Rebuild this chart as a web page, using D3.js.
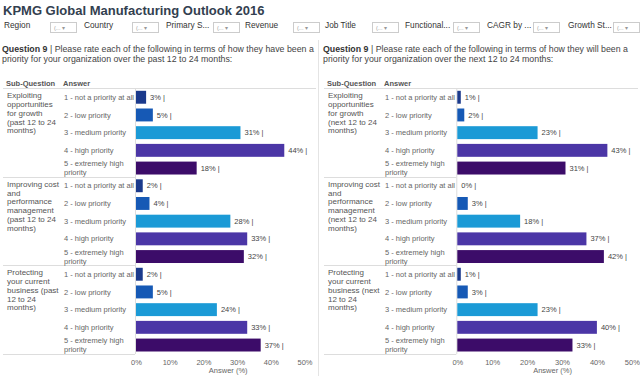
<!DOCTYPE html>
<html>
<head>
<meta charset="utf-8">
<script src="https://cdn.jsdelivr.net/npm/d3@7"></script>
<style>
  body { margin: 0; background: #fff; }
  text { font-family: "Liberation Sans", Arial, sans-serif; }
</style>
</head>
<body>
<div id="chart-area"></div>
<script>
var title = "KPMG Global Manufacturing Outlook 2016";
var filters = ["Region", "Country", "Primary S...", "Revenue", "Job Title", "Functional...", "CAGR by ...", "Growth St..."];

var answers = [
    ["1 - not a priority at all"],
    ["2 - low priority"],
    ["3 - medium priority"],
    ["4 - high priority"],
    ["5 - extremely high", "priority"]
];

var pastQuestion = ["Please rate each of the following in terms of how they have been a",
    "priority for your organization over the past 12 to 24 months:"];
var nextQuestion = ["Please rate each of the following in terms of how they will been a",
    "priority for your organization over the next 12 to 24 months:"];

var pastSubQuestions = [
    ["Exploiting", "opportunities", "for growth", "(past 12 to 24", "months)"],
    ["Improving cost", "and", "performance", "management", "(past 12 to 24", "months)"],
    ["Protecting", "your current", "business (past", "12 to 24", "months)"]
];
var nextSubQuestions = [
    ["Exploiting", "opportunities", "for growth", "(next 12 to 24", "months)"],
    ["Improving cost", "and", "performance", "management", "(next 12 to 24", "months)"],
    ["Protecting", "your current", "business (next", "12 to 24", "months)"]
];

var pastValues = [[3, 5, 31, 44, 18], [2, 4, 28, 33, 32], [2, 5, 24, 33, 37]];
var nextValues = [[1, 2, 23, 43, 31], [0, 3, 18, 37, 42], [1, 3, 23, 40, 33]];

var xTicks = [0, 10, 20, 30, 40, 50];
var colors = ["#1b3a8c", "#1659b5", "#1b9ad6", "#4b36a6", "#3c0c69"];

var width = 640;
var height = 376;

var svg = d3.select("#chart-area")
    .append("svg")
        .attr("width", width)
        .attr("height", height);

svg.append("text")
    .attr("x", 3)
    .attr("y", 15)
    .attr("font-size", "13px")
    .attr("font-weight", "bold")
    .attr("fill", "#33404f")
    .text(title);

// filter row
var filterX = [4, 84, 166, 245, 325, 405, 487, 568];
var boxX = [50, 132, 213, 293, 372, 453, 533, 613];
filters.forEach((f, i) => {
    svg.append("text")
        .attr("x", filterX[i])
        .attr("y", 28)
        .attr("font-size", "8.3px")
        .attr("fill", "#333")
        .text(f);
    svg.append("rect")
        .attr("x", boxX[i] + 0.5)
        .attr("y", 22.5)
        .attr("width", 26)
        .attr("height", 10)
        .attr("fill", "#fff")
        .attr("stroke", "#ccc");
    svg.append("text")
        .attr("x", boxX[i] + 4)
        .attr("y", 30)
        .attr("font-size", "5.5px")
        .attr("fill", "#999")
        .text("(... \u25BE");
});

// divider between the two panels
svg.append("line")
    .attr("x1", 318.5).attr("x2", 318.5)
    .attr("y1", 40).attr("y2", height)
    .attr("stroke", "#e4e4e4");

var panels = [
    {x0: 0, barX: 136, barW: 168.5, right: 316, question: pastQuestion, subQ: pastSubQuestions, values: pastValues},
    {x0: 321, barX: 457.3, barW: 174.5, right: 638, question: nextQuestion, subQ: nextSubQuestions, values: nextValues}
];

panels.forEach((p) => {
    var g = svg.append("g");

    var q = g.append("text")
        .attr("x", p.x0 + 2)
        .attr("y", 52)
        .attr("font-size", "8.8px")
        .attr("fill", "#444");
    q.append("tspan").attr("font-weight", "bold").attr("fill", "#333").text("Question 9");
    q.append("tspan").text(" | " + p.question[0]);
    g.append("text")
        .attr("x", p.x0 + 2)
        .attr("y", 61.5)
        .attr("font-size", "8.8px")
        .attr("fill", "#444")
        .text(p.question[1]);

    g.append("text")
        .attr("x", p.x0 + 6)
        .attr("y", 86)
        .attr("font-size", "7.5px")
        .attr("font-weight", "bold")
        .attr("fill", "#555")
        .text("Sub-Question");
    g.append("text")
        .attr("x", p.x0 + 63)
        .attr("y", 86)
        .attr("font-size", "7.5px")
        .attr("font-weight", "bold")
        .attr("fill", "#555")
        .text("Answer");

    g.append("line")
        .attr("x1", p.x0 + 3).attr("x2", p.right)
        .attr("y1", 88.5).attr("y2", 88.5)
        .attr("stroke", "#ddd");

    var rows = [];
    p.values.forEach((vals, gi) => {
        vals.forEach((v, ai) => {
            rows.push({key: gi + "-" + ai, group: gi, answer: ai, value: v});
        });
    });

    var y = d3.scaleBand()
        .domain(rows.map((d) => { return d.key; }))
        .range([88.5, 353.8])
        .paddingInner(0.27)
        .paddingOuter(0.13);

    var x = d3.scaleLinear()
        .domain([0, 50])
        .range([p.barX, p.barX + p.barW]);

    // group separators in the label columns
    p.values.forEach((vals, gi) => {
        var last = y(gi + "-4") + y.bandwidth() + y.step() * y.paddingInner() / 2;
        g.append("line")
            .attr("x1", p.x0 + 3).attr("x2", p.barX - 1)
            .attr("y1", Math.round(last) + 0.5).attr("y2", Math.round(last) + 0.5)
            .attr("stroke", "#ddd");

        var top = y(gi + "-0") + y.bandwidth() / 2 + 1;
        g.append("text")
            .attr("x", p.x0 + 7)
            .attr("font-size", "8px")
            .attr("fill", "#555")
            .selectAll("tspan")
            .data(p.subQ[gi])
            .enter().append("tspan")
                .attr("x", p.x0 + 7)
                .attr("y", (d, i) => { return top + i * 8.8; })
                .text((d) => { return d; });
    });

    g.append("line")
        .attr("x1", p.barX - 0.5).attr("x2", p.barX - 0.5)
        .attr("y1", 88.5).attr("y2", 354)
        .attr("stroke", "#ddd");

    // answer labels
    g.selectAll(".answer")
        .data(rows)
        .enter().append("text")
            .attr("class", "answer")
            .attr("font-size", "7.5px")
            .attr("fill", "#666")
            .each(function(d) {
                var lines = answers[d.answer];
                var cy = y(d.key) + y.bandwidth() / 2;
                d3.select(this).selectAll("tspan")
                    .data(lines)
                    .enter().append("tspan")
                        .attr("x", p.x0 + 64)
                        .attr("y", (l, i) => { return cy + 2.6 + (i - (lines.length - 1) / 2) * 9; })
                        .text((l) => { return l; });
            });

    g.selectAll(".bar")
        .data(rows)
        .enter().append("rect")
            .attr("class", "bar")
            .attr("x", x(0))
            .attr("y", (d) => { return y(d.key); })
            .attr("width", (d) => { return x(d.value) - x(0); })
            .attr("height", y.bandwidth())
            .attr("fill", (d) => { return colors[d.answer]; });

    g.selectAll(".val")
        .data(rows)
        .enter().append("text")
            .attr("class", "val")
            .attr("x", (d) => { return x(d.value) + 4; })
            .attr("y", (d) => { return y(d.key) + y.bandwidth() / 2 + 2.6; })
            .attr("font-size", "7.5px")
            .attr("fill", "#444")
            .text((d) => { return d.value + "% |"; });

    var xAxisCall = d3.axisBottom(x)
        .tickValues(xTicks)
        .tickSize(0)
        .tickFormat((d) => { return d + "%"; });

    var xAxisGroup = g.append("g")
        .attr("transform", "translate(0, 357)")
        .call(xAxisCall);
    xAxisGroup.select(".domain").remove();
    xAxisGroup.selectAll("text")
        .attr("font-size", "7.5px")
        .attr("font-family", "Liberation Sans, Arial, sans-serif")
        .attr("fill", "#666");

    g.append("text")
        .attr("x", (x(0) + x(50)) / 2 + 8)
        .attr("y", 373)
        .attr("font-size", "7.5px")
        .attr("text-anchor", "middle")
        .attr("fill", "#666")
        .text("Answer (%)");
});
</script>
</body>
</html>
